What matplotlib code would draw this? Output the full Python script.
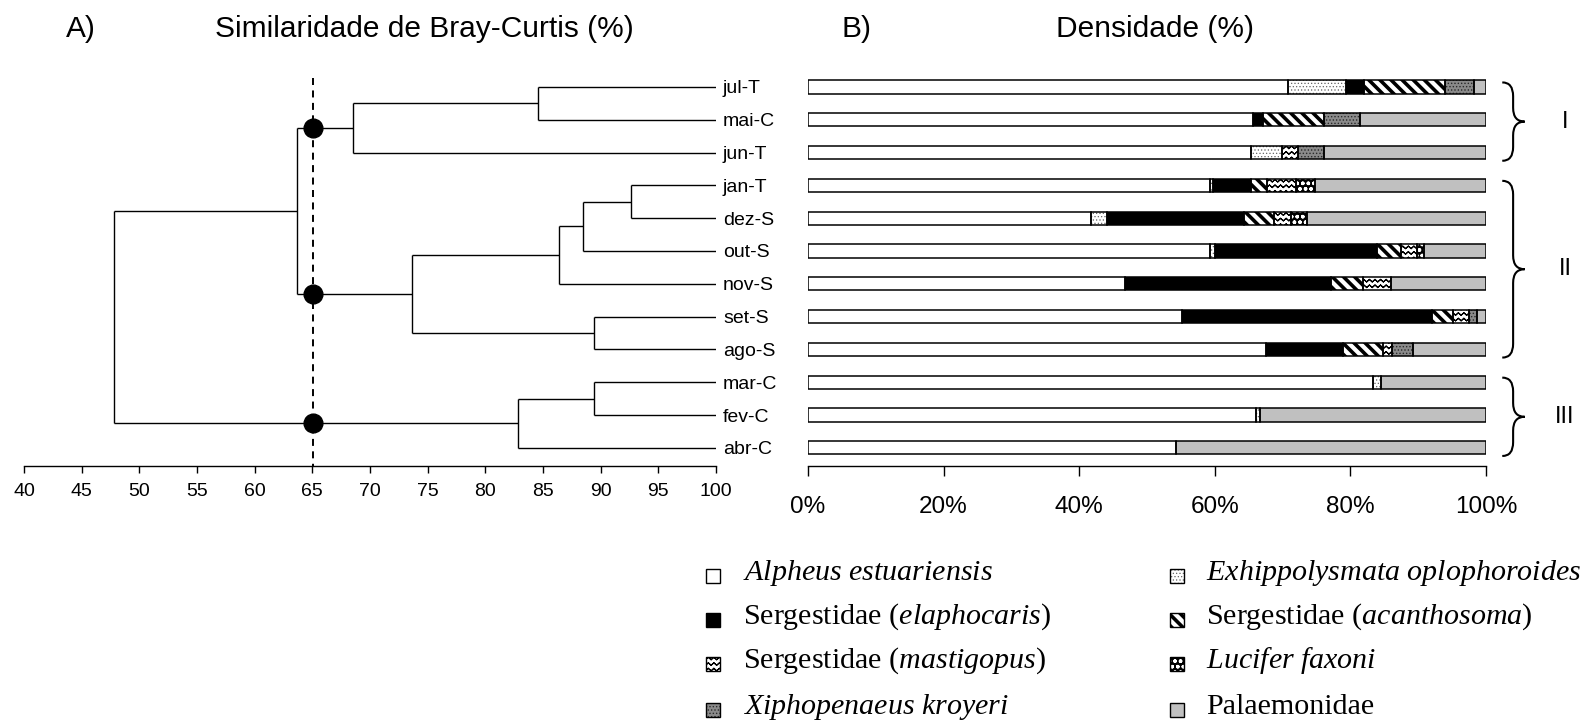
import warnings
warnings.filterwarnings('ignore')
import numpy as np
import matplotlib
matplotlib.use('Agg')
import matplotlib.pyplot as plt
import matplotlib.hatch as mhatch
import matplotlib.transforms as mtrans
from matplotlib.path import Path
from matplotlib.patches import PathPatch, Rectangle

plt.rcParams['font.family'] = ['Liberation Sans', 'DejaVu Sans']
plt.rcParams['mathtext.fontset'] = 'custom'
plt.rcParams['mathtext.rm'] = 'Liberation Serif'
plt.rcParams['mathtext.it'] = 'Liberation Serif:italic'

# ---------------- data ----------------
samples = ['jul-T', 'mai-C', 'jun-T', 'jan-T', 'dez-S', 'out-S',
           'nov-S', 'set-S', 'ago-S', 'mar-C', 'fev-C', 'abr-C']

species = ['Alpheus estuariensis', 'Exhippolysmata oplophoroides',
           'Sergestidae (elaphocaris)', 'Sergestidae (acanthosoma)',
           'Sergestidae (mastigopus)', 'Lucifer faxoni',
           'Xiphopenaeus kroyeri', 'Palaemonidae']
legend_labels = [r'$\mathit{Alpheus\ estuariensis}$',
                 r'$\mathit{Exhippolysmata\ oplophoroides}$',
                 r'Sergestidae ($\mathit{elaphocaris}$)',
                 r'Sergestidae ($\mathit{acanthosoma}$)',
                 r'Sergestidae ($\mathit{mastigopus}$)',
                 r'$\mathit{Lucifer\ faxoni}$',
                 r'$\mathit{Xiphopenaeus\ kroyeri}$',
                 'Palaemonidae']

alpheus = [70.8, 65.6, 65.4, 59.3, 41.8, 59.3, 46.8, 55.2, 67.6, 83.3, 66.1, 54.3]
exhippo = [8.6, 0.0, 4.5, 0.5, 2.3, 0.8, 0.0, 0.0, 0.0, 1.2, 0.5, 0.0]
elaphocaris = [2.6, 1.5, 0.0, 5.6, 20.2, 23.8, 30.3, 36.9, 11.3, 0.0, 0.0, 0.0]
acanthosoma = [11.9, 9.0, 0.0, 2.3, 4.4, 3.6, 4.7, 3.1, 5.9, 0.0, 0.0, 0.0]
mastigopus = [0.0, 0.0, 2.4, 4.3, 2.6, 2.3, 4.2, 2.3, 1.4, 0.0, 0.0, 0.0]
lucifer = [0.0, 0.0, 0.0, 2.8, 2.3, 1.1, 0.0, 0.0, 0.0, 0.0, 0.0, 0.0]
xiphopenaeus = [4.3, 5.3, 3.8, 0.0, 0.0, 0.0, 0.0, 1.2, 3.1, 0.0, 0.0, 0.0]
palaemonidae = [1.8, 18.6, 23.9, 25.2, 26.4, 9.1, 14.0, 1.3, 10.7, 15.5, 33.4, 45.7]
densities = [alpheus, exhippo, elaphocaris, acanthosoma, mastigopus,
             lucifer, xiphopenaeus, palaemonidae]

# dendrogram merges: (child a, child b, similarity %); leaves 0..11, new clusters 12..
merges = [(0, 1, 84.6), (12, 2, 68.5), (3, 4, 92.6), (14, 5, 88.5),
          (15, 6, 86.4), (7, 8, 89.4), (16, 17, 73.6), (13, 18, 63.7),
          (9, 10, 89.4), (20, 11, 82.8), (19, 21, 47.8)]
cut_level = 65.1
groups = [('I', 0, 2), ('II', 3, 8), ('III', 9, 11)]

sim_ticks = list(range(40, 101, 5))
pct_ticks = [0, 20, 40, 60, 80, 100]

# ---------------- styles ----------------
# custom zig-zag hatch for "mastigopus"
class ZigZagHatch(mhatch.HatchPatternBase):
    def __init__(self, hatch, density):
        self.num_rows = int(hatch.count('z') * density)
        self.teeth = self.num_rows
        npts = 2 * self.teeth + 1
        self.per_row = 2 * npts - 1
        self.num_vertices = self.num_rows * self.per_row

    def set_vertices_and_codes(self, vertices, codes):
        rows = self.num_rows
        amp = 0.45 / rows
        xs = np.linspace(0, 1, 2 * self.teeth + 1)
        yo = np.where(np.arange(len(xs)) % 2 == 0, 0.0, amp)
        fx = np.concatenate([xs, xs[-2::-1]])
        fy = np.concatenate([yo, yo[-2::-1]])
        m = len(fx)
        k = 0
        for i in range(rows):
            y0 = (i + 0.25) / rows
            vertices[k:k + m, 0] = fx
            vertices[k:k + m, 1] = fy + y0
            codes[k] = Path.MOVETO
            codes[k + 1:k + m] = Path.LINETO
            k += m

mhatch._hatch_types.append(ZigZagHatch)

styles = [  # facecolor, hatch, hatch colour, hatch linewidth
    ('white', None, 'black', 1.0),
    ('white', '.....', '#666666', 0.5),
    ('black', None, 'black', 1.0),
    ('white', '\\\\\\', 'black', 2.6),
    ('white', 'zzz', 'black', 0.8),
    ('black', 'ooo', 'white', 1.0),
    ('#8a8a8a', '.....', '#2a2a2a', 0.6),
    ('#c0c0c0', None, 'black', 1.0),
]


def style_patch(p, st):
    fc, h, hc, hlw = st
    p.set_facecolor(fc)
    p.set_edgecolor(hc)
    p.set_linewidth(0)
    if h is not None:
        with plt.rc_context({'hatch.linewidth': hlw}):
            p.set_hatch(h)
        if hasattr(p, 'set_hatch_linewidth'):
            p.set_hatch_linewidth(hlw)


# ---------------- figure ----------------
W, H = 1585, 721
fig = plt.figure(figsize=(W / 100, H / 100), dpi=100)

row_px0, row_step = 87.0, 32.8
ylo, yhi = -0.6, 11.55
ax_bottom = 1 - (row_px0 + yhi * row_step) / H
ax_top = 1 - (row_px0 + ylo * row_step) / H
ax_h = ax_top - ax_bottom

axd = fig.add_axes([24 / W, ax_bottom, 692 / W, ax_h])
axb = fig.add_axes([808 / W, ax_bottom, 678 / W, ax_h])

# ---- dendrogram ----
n = len(samples)
ypos = {i: float(i) for i in range(n)}
xpos = {i: 100.0 for i in range(n)}
parent_h = {}
for k, (a, b, h) in enumerate(merges):
    c = n + k
    for ch in (a, b):
        axd.plot([h, xpos[ch]], [ypos[ch], ypos[ch]], color='black', lw=1.0,
                 solid_capstyle='butt')
        parent_h[ch] = h
    axd.plot([h, h], [ypos[a], ypos[b]], color='black', lw=1.0,
             solid_capstyle='butt')
    ypos[c] = (ypos[a] + ypos[b]) / 2
    xpos[c] = h

axd.plot([cut_level, cut_level], [-0.27, yhi], color='black', lw=1.4,
         dashes=(3.6, 2.8), clip_on=False, zorder=3)
for c in list(xpos):
    if c in parent_h and xpos[c] >= cut_level > parent_h[c]:
        axd.plot([cut_level], [ypos[c]], 'o', color='black', markersize=13.5,
                 zorder=5, clip_on=False)

axd.set_xlim(40, 100)
axd.set_ylim(yhi, ylo)
for s in ['top', 'left', 'right']:
    axd.spines[s].set_visible(False)
axd.spines['bottom'].set_linewidth(1.0)
axd.set_xticks(sim_ticks)
axd.tick_params(axis='x', direction='out', length=5, width=1.0,
                labelsize=14, pad=7)
axd.yaxis.tick_right()
axd.set_yticks(range(n))
axd.set_yticklabels(samples)
axd.tick_params(axis='y', length=0, labelsize=14, pad=5)
axd.patch.set_visible(False)

# ---- stacked bars ----
bar_h = 0.4
left = np.zeros(n)
for vals, st in zip(densities, styles):
    vals = np.asarray(vals, dtype=float)
    idx = np.nonzero(vals > 0)[0]
    if len(idx):
        bars = axb.barh(idx, vals[idx], left=left[idx], height=bar_h, zorder=2)
        for p in bars:
            style_patch(p, st)
        axb.barh(idx, vals[idx], left=left[idx], height=bar_h, fill=False,
                 edgecolor='black', linewidth=1.1, zorder=3)
    left += vals

axb.set_xlim(0, 100)
axb.set_ylim(yhi, ylo)
for s in ['top', 'left', 'right']:
    axb.spines[s].set_visible(False)
axb.spines['bottom'].set_linewidth(1.0)
axb.set_yticks([])
axb.set_xticks(pct_ticks)
axb.set_xticklabels([f'{t}%' for t in pct_ticks])
axb.tick_params(axis='x', direction='out', length=7, width=1.0,
                labelsize=17.5, pad=15)
axb.patch.set_visible(False)

# braces
trans = mtrans.blended_transform_factory(axb.transAxes, axb.transData)
x0, x1, x2, r = 1.024, 1.040, 1.057, 0.42
for lab, g0, g1 in groups:
    y0, y1 = g0 - 0.14, g1 + 0.25
    ym = (y0 + y1) / 2
    verts = [(x0, y0), (x1, y0), (x1, y0 + r), (x1, ym - r), (x1, ym), (x2, ym),
             (x1, ym), (x1, ym + r), (x1, y1 - r), (x1, y1), (x0, y1)]
    codes = [Path.MOVETO, Path.CURVE3, Path.CURVE3, Path.LINETO, Path.CURVE3,
             Path.CURVE3, Path.CURVE3, Path.CURVE3, Path.LINETO, Path.CURVE3,
             Path.CURVE3]
    axb.add_patch(PathPatch(Path(verts, codes), fill=False, lw=1.5,
                            edgecolor='black', transform=trans, clip_on=False))
    axb.text(1.1165, ym, lab, transform=trans, ha='center', va='center',
             fontsize=17, clip_on=False)

# titles
fig.text(66 / W, 1 - 29 / H, 'A)', fontsize=21.5, ha='left', va='center')
fig.text(424 / W, 1 - 29 / H, 'Similaridade de Bray-Curtis (%)', fontsize=21.5,
         ha='center', va='center')
fig.text(842 / W, 1 - 29 / H, 'B)', fontsize=21.5, ha='left', va='center')
fig.text(1155 / W, 1 - 29 / H, 'Densidade (%)', fontsize=21.5,
         ha='center', va='center')

# legend (manual, 2 columns)
axl = fig.add_axes([0, 0, 1, 1])
axl.set_xlim(0, W)
axl.set_ylim(H, 0)
axl.axis('off')
mark_x = [706, 1170]
text_x = [743, 1206]
row_y = [571, 615, 659, 705]
sq_size = 14
for i, (lab, st) in enumerate(zip(legend_labels, styles)):
    col, row = i % 2, i // 2
    ty = row_y[row]
    sq = Rectangle((mark_x[col], ty - 2), sq_size, sq_size)
    axl.add_patch(sq)
    style_patch(sq, st)
    axl.add_patch(Rectangle((mark_x[col], ty - 2), sq_size, sq_size, fill=False,
                            edgecolor='black', lw=1.0))
    axl.text(text_x[col], ty + 9, lab, fontsize=21.6, ha='left',
             va='baseline', family=['Liberation Serif', 'DejaVu Serif'])

fig.savefig('out.png', dpi=100)
